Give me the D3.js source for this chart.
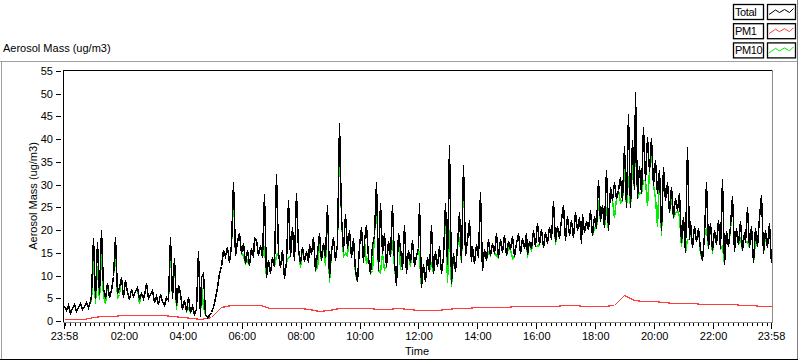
<!DOCTYPE html>
<meta charset="utf-8">
<style>
 body { margin: 0; background: #fff; }
 svg { display: block; font: 11px "Liberation Sans", Arial, sans-serif; background: #fff; }
 .axis path { display: none; }
 .axis line { stroke: #000; shape-rendering: crispEdges; }
 .axis text { fill: #000; font-size: 11px; font-family: "Liberation Sans", Arial, sans-serif; }
 .trace { fill: none; stroke-width: 1.5px; shape-rendering: crispEdges; }
 .frame { shape-rendering: crispEdges; fill: none; }
</style>
<body>
<svg width="800" height="361"></svg>
<script src="https://cdn.jsdelivr.net/npm/d3@7"></script>
<script>

 // minutes after 23:58 between two samples
 var totalStep = 4;
 var pm1Step = 20;

 var total = [
  3.2, 2.4, 3.6, 1.8, 2.9, 3.8, 2.2, 3.1, 4.0, 2.6,
  3.4, 4.2, 3.0, 4.5, 5.8, 18.2, 5.1, 17.4, 6.0, 20.0,
  7.2, 5.0, 8.4, 5.3, 6.9, 9.8, 18.5, 6.1, 7.4, 9.7,
  5.2, 9.0, 6.3, 4.8, 7.0, 5.5, 6.6, 7.5, 4.9, 6.2,
  5.1, 6.8, 8.3, 5.0, 6.0, 6.8, 4.2, 5.6, 3.8, 5.9,
  4.5, 3.6, 5.2, 4.6, 18.5, 5.0, 13.8, 3.6, 8.0, 6.1,
  2.7, 4.6, 2.2, 5.3, 1.9, 3.4, 1.5, 2.6, 15.5, 1.2,
  9.7, 10.5, 1.6, 0.9, 1.4, 2.0, 3.1, 5.0, 7.5, 10.5,
  12.0, 15.6, 14.2, 16.3, 13.0, 16.8, 30.6, 14.5, 17.5, 19.4,
  15.0, 17.2, 12.8, 15.6, 12.3, 16.0, 14.1, 18.3, 17.8, 14.5,
  16.8, 14.1, 27.9, 9.7, 13.4, 10.5, 14.0, 12.0, 32.3, 15.0,
  11.9, 15.6, 9.4, 13.0, 26.6, 14.2, 20.7, 13.4, 28.1, 15.8,
  12.7, 16.3, 13.2, 15.5, 12.9, 17.0, 14.8, 18.5, 11.2, 15.0,
  19.4, 13.4, 17.1, 14.0, 25.6, 9.7, 15.4, 18.5, 13.4, 17.0,
  43.6, 22.9, 15.3, 23.5, 16.0, 20.0, 14.1, 18.2, 11.2, 8.7,
  16.5, 20.7, 13.0, 17.6, 21.1, 14.0, 10.5, 16.8, 19.0, 30.6,
  11.2, 26.0, 15.0, 19.4, 12.0, 17.5, 14.2, 25.5, 13.0, 7.9,
  19.4, 16.0, 11.5, 21.1, 10.5, 15.6, 13.0, 17.8, 12.0, 14.5,
  16.0, 25.9, 7.5, 12.5, 8.7, 14.0, 11.0, 21.1, 10.5, 15.5,
  12.0, 16.5, 10.5, 14.0, 26.0, 12.5, 38.7, 8.4, 15.0, 11.0,
  16.5, 24.0, 13.0, 34.3, 14.5, 17.8, 22.2, 13.2, 16.5, 12.8,
  17.0, 14.0, 28.4, 11.2, 15.8, 13.5, 18.0, 14.5, 17.2, 15.0,
  19.3, 14.1, 18.0, 15.2, 19.0, 14.6, 17.5, 15.8, 18.6, 14.4,
  17.2, 19.3, 15.0, 18.2, 16.0, 19.4, 14.8, 17.6, 16.0, 20.0,
  16.5, 21.5, 17.0, 20.2, 16.3, 19.5, 17.2, 20.7, 18.0, 26.4,
  17.5, 21.0, 18.2, 22.5, 25.5, 17.8, 23.0, 19.0, 22.2, 18.5,
  24.0, 20.0, 22.8, 17.2, 23.5, 19.6, 22.0, 20.2, 24.4, 19.0,
  23.0, 20.5, 31.0, 22.0, 25.5, 20.7, 33.2, 20.0, 29.5, 26.6,
  30.5, 27.0, 28.8, 31.7, 26.6, 38.5, 25.1, 45.5, 25.1, 39.8,
  29.0, 50.3, 27.0, 34.0, 28.1, 42.7, 31.0, 40.5, 33.0, 40.2,
  30.0, 35.4, 28.1, 33.2, 20.0, 33.8, 26.6, 30.5, 24.0, 29.5,
  22.9, 27.0, 24.5, 28.1, 17.4, 22.9, 15.2, 38.2, 18.0, 22.0,
  16.3, 21.0, 17.5, 20.5, 15.8, 13.4, 19.0, 30.5, 16.0, 21.5,
  15.6, 20.0, 17.0, 22.2, 16.0, 31.2, 12.5, 19.8, 16.5, 21.0,
  27.5, 15.5, 20.5, 17.0, 22.0, 15.6, 19.5, 17.3, 25.1, 16.3,
  21.0, 13.0, 20.5, 16.5, 22.9, 27.7, 15.0, 20.0, 16.3, 21.5,
  12.8
 ];

 var pm10 = [
  3.2, 2.4, 3.6, 1.8, 2.9, 3.8, 2.2, 3.1, 4.0, 2.6,
  3.4, 4.2, 3.0, 4.5, 4.6, 14.0, 4.0, 12.0, 4.8, 15.0,
  5.5, 4.0, 8.4, 5.3, 6.9, 9.8, 16.0, 5.0, 5.9, 9.7,
  5.2, 9.0, 6.3, 4.8, 7.0, 5.5, 6.6, 7.5, 4.0, 6.2,
  5.1, 6.8, 8.3, 5.0, 6.0, 6.8, 4.2, 5.6, 3.8, 5.9,
  4.5, 3.6, 5.2, 4.6, 16.0, 5.0, 13.8, 2.6, 8.0, 6.1,
  2.7, 4.6, 2.2, 2.9, 1.9, 3.4, 1.5, 2.6, 15.5, 1.2,
  8.0, 3.0, 1.6, 0.9, 1.4, 2.0, 3.1, 5.0, 7.5, 10.5,
  12.0, 15.6, 14.2, 16.3, 13.0, 16.8, 28.0, 14.5, 17.5, 19.4,
  15.0, 14.5, 12.8, 13.4, 12.3, 16.0, 14.1, 18.3, 17.8, 14.5,
  16.8, 14.1, 16.5, 9.7, 13.4, 10.5, 14.0, 12.0, 14.5, 15.0,
  11.9, 15.6, 9.4, 13.0, 14.0, 14.2, 20.7, 13.4, 28.1, 15.8,
  11.8, 16.3, 13.2, 15.5, 12.9, 17.0, 14.8, 18.5, 11.2, 11.9,
  17.0, 13.4, 17.1, 12.3, 25.6, 8.6, 15.4, 18.5, 13.4, 17.0,
  40.0, 22.9, 14.2, 15.0, 14.6, 20.0, 14.1, 18.2, 10.3, 8.7,
  16.5, 20.7, 13.0, 17.6, 12.7, 14.0, 10.5, 11.2, 19.0, 28.0,
  11.2, 10.8, 15.0, 11.5, 12.0, 17.5, 14.2, 17.8, 11.8, 7.9,
  19.4, 11.5, 11.5, 21.1, 10.5, 15.6, 12.0, 17.8, 12.0, 14.5,
  16.0, 14.0, 7.5, 12.5, 8.7, 14.0, 11.0, 13.0, 10.5, 15.5,
  12.0, 16.5, 10.5, 14.0, 26.0, 8.5, 20.0, 7.8, 15.0, 11.0,
  16.5, 18.5, 13.0, 32.0, 14.5, 17.8, 22.2, 13.2, 16.5, 12.8,
  17.0, 14.0, 28.4, 11.2, 15.8, 13.5, 15.2, 14.5, 17.2, 15.0,
  14.5, 14.1, 18.0, 15.2, 19.0, 14.6, 16.3, 15.8, 13.8, 14.4,
  17.2, 19.3, 15.0, 18.2, 16.0, 19.4, 14.0, 17.6, 15.5, 20.0,
  16.5, 16.5, 17.0, 20.2, 16.3, 19.5, 17.2, 20.7, 18.0, 26.4,
  17.0, 21.0, 18.2, 22.5, 25.5, 17.8, 23.0, 19.0, 22.2, 18.5,
  24.0, 20.0, 22.8, 17.2, 23.5, 19.6, 22.0, 20.2, 24.4, 19.0,
  20.7, 20.5, 26.6, 22.0, 25.5, 20.7, 25.1, 20.0, 29.5, 26.6,
  22.9, 27.0, 28.8, 26.2, 26.6, 34.0, 25.1, 32.0, 25.1, 34.7,
  29.0, 47.0, 27.0, 28.4, 28.1, 31.0, 31.0, 25.5, 33.0, 38.0,
  30.0, 27.0, 21.0, 33.2, 19.0, 33.8, 26.6, 30.5, 24.0, 27.3,
  22.9, 23.7, 24.5, 23.0, 16.5, 22.9, 15.2, 18.0, 18.0, 20.5,
  16.3, 21.0, 17.5, 20.5, 15.0, 13.4, 19.0, 20.5, 16.0, 21.5,
  15.0, 20.0, 17.0, 22.2, 16.0, 16.5, 12.5, 19.8, 16.5, 20.0,
  27.5, 15.5, 20.5, 17.0, 18.5, 15.6, 19.5, 17.3, 17.5, 16.3,
  21.0, 13.0, 17.5, 16.5, 22.9, 27.7, 15.0, 19.0, 16.3, 21.5,
  12.8
 ];

 var pm1 = [
  0.4, 0.4, 0.5, 0.9, 1.1, 1.2, 1.3, 1.3, 1.3, 1.3,
  1.3, 1.0, 0.9, 0.6, 0.4, 0.8, 3.0, 3.6, 3.6, 3.6,
  3.5, 2.8, 2.8, 2.9, 2.8, 2.7, 2.2, 2.4, 2.8, 2.9,
  2.9, 2.8, 2.7, 2.7, 2.8, 2.6, 2.5, 2.4, 2.4, 2.6,
  2.8, 2.9, 3.1, 3.0, 3.1, 3.1, 3.2, 3.2, 3.3, 3.3,
  3.4, 3.5, 3.5, 3.4, 3.4, 3.3, 3.5, 5.8, 4.7, 4.5,
  4.3, 4.1, 4.0, 3.9, 3.9, 3.7, 3.7, 3.8, 3.7, 3.6,
  3.5, 3.4, 3.3
 ];

 var seriesNames = ["Total", "PM1", "PM10"];
 var majorTickMinutes = [0, 122, 242, 362, 482, 602, 722, 842, 962, 1082, 1202, 1322, 1440];
 var majorTickLabels = ["23:58", "02:00", "04:00", "06:00", "08:00", "10:00", "12:00",
                        "14:00", "16:00", "18:00", "20:00", "22:00", "23:58"];
 var yTickValues = [0, 5, 10, 15, 20, 25, 30, 35, 40, 45, 50, 55];

 var colors = { "Total": "#000000", "PM1": "#ff3c3c", "PM10": "#00ee00" };

 var svg = d3.select("svg");

 var x = d3.scaleLinear().domain([0, 1440]).range([64, 771]);
 var y = d3.scaleLinear().domain([0, 55]).range([321, 71]);

 /* outer panel border */
 function hline(x1, x2, yy, c) {
     svg.append("line").attr("class", "frame").attr("x1", x1).attr("x2", x2)
        .attr("y1", yy).attr("y2", yy).attr("stroke", c);
 }
 function vline(xx, y1, y2, c) {
     svg.append("line").attr("class", "frame").attr("x1", xx).attr("x2", xx)
        .attr("y1", y1).attr("y2", y2).attr("stroke", c);
 }
 hline(0, 797, 61.5, "#a0a0a0");
 vline(1.5, 61, 359, "#a0a0a0");
 vline(797.5, 0, 360, "#808080");
 hline(0, 798, 359.5, "#000");

 /* plot area border */
 hline(63, 773, 70.5, "#000");
 vline(63.5, 70, 323, "#000");
 vline(772.5, 70, 323, "#8c8c8c");
 hline(63, 773, 322.5, "#8c8c8c");

 svg.append("clipPath").attr("id", "plotclip")
    .append("rect").attr("x", 64).attr("y", 71).attr("width", 708).attr("height", 251);

 var line = d3.line()
     .x(function(d) { return Math.round(x(d.t)) + 0.5; })
     .y(function(d) { return Math.round(y(d.v)) + 0.5; });

 function toPoints(arr, step) {
     return arr.map(function(v, i) { return { t: i * step, v: v }; });
 }

 var plot = svg.append("g").attr("clip-path", "url(#plotclip)");
 plot.append("path").attr("class", "trace").attr("stroke", colors["PM10"])
     .attr("d", line(toPoints(pm10, totalStep)));
 plot.append("path").attr("class", "trace").attr("stroke", colors["PM1"])
     .style("stroke-width", "1.2px")
     .attr("d", line(toPoints(pm1, pm1Step)));
 plot.append("path").attr("class", "trace").attr("stroke", colors["Total"])
     .attr("d", line(toPoints(total, totalStep)));

 /* axes */
 var minorTicks = d3.range(2, 1440, 10).filter(function(m) { return (m - 2) % 120 != 0 || m == 2; });

 svg.append("g").attr("class", "axis")
    .attr("transform", "translate(0,323)")
    .call(d3.axisBottom(x).tickValues(minorTicks).tickSize(3).tickFormat(""));

 svg.append("g").attr("class", "axis")
    .attr("transform", "translate(0,323)")
    .call(d3.axisBottom(x).tickValues(majorTickMinutes).tickSize(6).tickPadding(3)
          .tickFormat(function(d, i) { return majorTickLabels[i]; }));

 svg.append("g").attr("class", "axis")
    .attr("transform", "translate(61,0)")
    .call(d3.axisLeft(y).tickValues(yTickValues).tickSize(5).tickPadding(3));

 /* titles */
 svg.append("text").attr("x", 3).attr("y", 52).text("Aerosol Mass (ug/m3)");
 svg.append("text").attr("x", 417).attr("y", 355).attr("text-anchor", "middle").text("Time");
 svg.append("text").attr("transform", "translate(37,196) rotate(-90)")
    .attr("text-anchor", "middle").text("Aerosol Mass (ug/m3)");

 /* legend */
 var zig = d3.line()([[2, 10.5], [8.5, 6], [12.5, 8.5], [17.5, 5.5], [22.5, 8.5], [26.5, 4.5]]);
 var leg = svg.selectAll(".leg").data(seriesNames).enter().append("g")
     .attr("class", "leg")
     .attr("transform", function(d, i) { return "translate(733," + (4 + i * 19.2) + ")"; });
 leg.append("rect").attr("x", 0.5).attr("y", 0.5).attr("width", 30).attr("height", 15)
    .attr("fill", "#fff").attr("stroke", "#000").attr("stroke-width", 1.3);
 leg.append("text").attr("x", 2).attr("y", 12).style("font-size", "11px")
    .style("letter-spacing", "-0.4px").text(function(d) { return d; });
 leg.append("rect").attr("x", 34.5).attr("y", 0.5).attr("width", 28).attr("height", 15)
    .attr("fill", "#fff").attr("stroke", "#000").attr("stroke-width", 1.3);
 leg.append("path").attr("transform", "translate(34,0)").attr("d", zig)
    .attr("fill", "none").attr("stroke", function(d) { return colors[d]; });

</script>
</body>
